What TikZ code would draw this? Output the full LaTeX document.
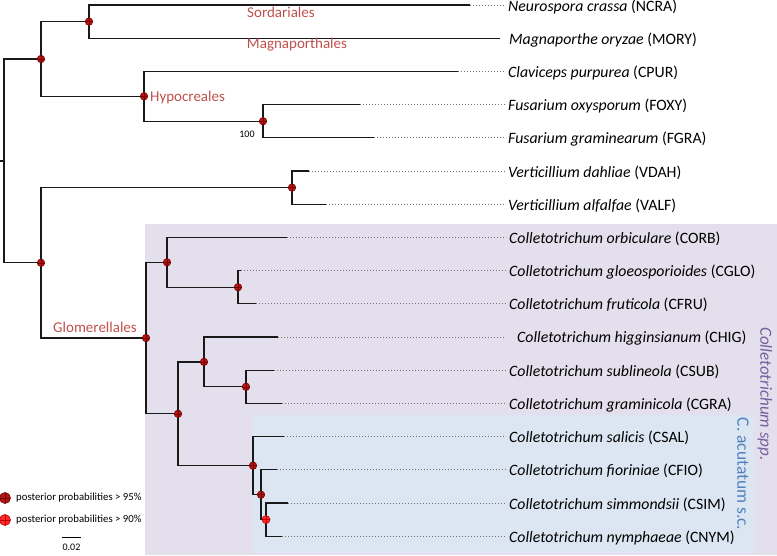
\documentclass[tikz,border=0pt]{standalone}
\usepackage{fontspec}
\setmainfont{Carlito}
\definecolor{cladered}{HTML}{C0504D}
\definecolor{sppurple}{HTML}{7560A0}
\definecolor{acblue}{HTML}{4F81BD}
\definecolor{purplebg}{HTML}{E4DFEC}
\definecolor{bluebg}{HTML}{DCE6F2}
\definecolor{ppdark}{HTML}{7A0000}
\definecolor{ppfill}{HTML}{B01818}
\definecolor{ppbright}{HTML}{FF2A2A}
\definecolor{ppbrightdark}{HTML}{C00000}
\begin{document}
\begin{tikzpicture}[x=1pt,y=-1pt,
  br/.style={line width=1.2pt, black!90},
  dotline/.style={black!55, line width=0.9pt, dash pattern=on 0.9pt off 2.1pt},
  sp/.style={anchor=west, inner sep=0pt, font=\fontsize{15.8}{18}\selectfont},
  clade/.style={text=cladered, inner sep=0pt, font=\fontsize{15}{18}\selectfont},
  small/.style={inner sep=0pt, font=\fontsize{10}{12}\selectfont},
  ppmark/.style={circle, inner sep=0pt, minimum size=#1, line width=0.6pt,
    path picture={\draw[line width=0.6pt, draw=ppdark]
      (path picture bounding box.north) -- (path picture bounding box.south)
      (path picture bounding box.west) -- (path picture bounding box.east);}},
  pp95/.style={ppmark=#1, draw=ppdark, fill=ppfill},
  pp90/.style={circle, inner sep=0pt, minimum size=#1, line width=0.6pt, draw=ppbrightdark, fill=ppbright,
    path picture={\draw[line width=0.6pt, draw=ppbrightdark]
      (path picture bounding box.north) -- (path picture bounding box.south)
      (path picture bounding box.west) -- (path picture bounding box.east);}}
]
\useasboundingbox (0,0) rectangle (777,555);
% backgrounds
\fill[purplebg] (145,224) rectangle (777,555);
\fill[bluebg] (252,415) rectangle (754,553);

% internal nodes
\coordinate (r0) at (0,160.9);
\coordinate (root) at (4,160.9);
\coordinate (n1) at (41,59);
\coordinate (n2) at (89,21.6);
\coordinate (n3) at (144,96.3);
\coordinate (n4) at (263,121.2);
\coordinate (n5) at (41,262.8);
\coordinate (n6) at (292,187.6);
\coordinate (n7) at (146,338);
\coordinate (n8) at (167,262.3);
\coordinate (n9) at (238,287.2);
\coordinate (n10) at (178,413.8);
\coordinate (n11) at (204,361.9);
\coordinate (n12) at (246,386.8);
\coordinate (n13) at (253,465.65);
\coordinate (n14) at (261,494.7);
\coordinate (n15) at (266,519.6);

% leaf branch ends
\coordinate (lNCRA) at (470,5);
\coordinate (lMORY) at (500,38.2);
\coordinate (lCPUR) at (458,71.4);
\coordinate (lFOXY) at (360,104.6);
\coordinate (lFGRA) at (374,137.8);
\coordinate (lVDAH) at (309,171);
\coordinate (lVALF) at (326,204.2);
\coordinate (lCORB) at (287,237.4);
\coordinate (lCGLO) at (241,270.6);
\coordinate (lCFRU) at (256,303.8);
\coordinate (lCHIG) at (278,337);
\coordinate (lCSUB) at (274,370.2);
\coordinate (lCGRA) at (282,403.4);
\coordinate (lCSAL) at (284,436.6);
\coordinate (lCFIO) at (277,469.8);
\coordinate (lCSIM) at (288,503);
\coordinate (lCNYM) at (282,536.2);

% dotted ends
\foreach \n/\y in {NCRA/5,CPUR/71.4,FOXY/104.6,FGRA/137.8,VDAH/171,VALF/204.2,CORB/237.4,CGLO/270.6,CFRU/303.8,CHIG/337,CSUB/370.2,CGRA/403.4,CSAL/436.6,CFIO/469.8,CSIM/503,CNYM/536.2}
  \coordinate (d\n) at (506,\y);

% tree branches
\draw[br] (r0) -- (root);
\draw[br] (root) |- (n1);
\draw[br] (root) |- (n5);
\draw[br] (n1) |- (n2);
\draw[br] (n1) |- (n3);
\draw[br] (n2) |- (lNCRA);
\draw[br] (n2) |- (lMORY);
\draw[br] (n3) |- (lCPUR);
\draw[br] (n3) |- (n4);
\draw[br] (n4) |- (lFOXY);
\draw[br] (n4) |- (lFGRA);
\draw[br] (n5) |- (n6);
\draw[br] (n5) |- (n7);
\draw[br] (n6) |- (lVDAH);
\draw[br] (n6) |- (lVALF);
\draw[br] (n7) |- (n8);
\draw[br] (n7) |- (n10);
\draw[br] (n8) |- (lCORB);
\draw[br] (n8) |- (n9);
\draw[br] (n9) |- (lCGLO);
\draw[br] (n9) |- (lCFRU);
\draw[br] (n10) |- (n11);
\draw[br] (n10) |- (n13);
\draw[br] (n11) |- (lCHIG);
\draw[br] (n11) |- (n12);
\draw[br] (n12) |- (lCSUB);
\draw[br] (n12) |- (lCGRA);
\draw[br] (n13) |- (lCSAL);
\draw[br] (n13) |- (n14);
\draw[br] (n14) |- (lCFIO);
\draw[br] (n14) |- (n15);
\draw[br] (n15) |- (lCSIM);
\draw[br] (n15) |- (lCNYM);

% dotted extensions
\foreach \n in {NCRA,CPUR,FOXY,FGRA,VDAH,VALF,CORB,CGLO,CFRU,CHIG,CSUB,CGRA,CSAL,CFIO,CSIM,CNYM}
  \draw[dotline] (l\n) -- (d\n);

% markers
\foreach \n in {n1,n2,n3,n4,n5,n6,n7,n8,n9,n10,n11,n12,n13,n14}
  \node[pp95=7.5pt] (m\n) at (\n) {};
\node[pp90=8pt] (mn15) at (n15) {};

% species labels
\node[sp] (tNCRA) at (508,6.5) {\textit{Neurospora crassa} (NCRA)};
\node[sp] (tMORY) at (509,39.7) {\textit{Magnaporthe oryzae} (MORY)};
\node[sp] (tCPUR) at (508,72.9) {\textit{Claviceps purpurea} (CPUR)};
\node[sp] (tFOXY) at (508,106.1) {\textit{Fusarium oxysporum} (FOXY)};
\node[sp] (tFGRA) at (508,139.3) {\textit{Fusarium graminearum} (FGRA)};
\node[sp] (tVDAH) at (508,172.5) {\textit{Verticillium dahliae} (VDAH)};
\node[sp] (tVALF) at (508,205.7) {\textit{Verticillium alfalfae} (VALF)};
\node[sp] (tCORB) at (509,238.9) {\textit{Colletotrichum orbiculare} (CORB)};
\node[sp] (tCGLO) at (509,272.1) {\textit{Colletotrichum gloeosporioides} (CGLO)};
\node[sp] (tCFRU) at (509,305.3) {\textit{Colletotrichum fruticola} (CFRU)};
\node[sp] (tCHIG) at (517,338.5) {\textit{Colletotrichum higginsianum} (CHIG)};
\node[sp] (tCSUB) at (509,371.7) {\textit{Colletotrichum sublineola} (CSUB)};
\node[sp] (tCGRA) at (509,404.9) {\textit{Colletotrichum graminicola} (CGRA)};
\node[sp] (tCSAL) at (509,438.1) {\textit{Colletotrichum salicis} (CSAL)};
\node[sp] (tCFIO) at (509,471.3) {\textit{Colletotrichum fioriniae} (CFIO)};
\node[sp] (tCSIM) at (509,504.5) {\textit{Colletotrichum simmondsii} (CSIM)};
\node[sp] (tCNYM) at (509,537.7) {\textit{Colletotrichum nymphaeae} (CNYM)};

% clade labels
\node[clade] (cSord) at (281,12) {Sordariales};
\node[clade] (cMagn) at (297,45) {Magnaporthales};
\node[clade, anchor=west] (cHypo) at (150,97) {Hypocreales};
\node[clade] (cGlom) at (95,327) {Glomerellales};
\node[small] (b100) at (247,134) {100};

% rotated group labels
\node[inner sep=0pt, rotate=-90, text=sppurple, font=\fontsize{17}{20}\selectfont\itshape] (gspp) at (765,394) {Colletotrichum spp.};
\node[inner sep=0pt, rotate=-90, text=acblue, font=\fontsize{17.5}{20}\selectfont] (gacu) at (743,474) {C. acutatum s.c.};

% legend
\node[pp95=11pt] (lg95) at (5,498) {};
\node[small, anchor=west, font=\fontsize{10.75}{12}\selectfont] (lt95) at (16,498) {posterior probabilities > 95\%};
\node[pp90=11pt] (lg90) at (5,520) {};
\node[small, anchor=west, font=\fontsize{10.75}{12}\selectfont] (lt90) at (16,520) {posterior probabilities > 90\%};
\coordinate (sb1) at (62,537);
\coordinate (sb2) at (81,537);
\draw[line width=1pt] (sb1) -- (sb2);
\node[small] (sbt) at (71.5,547) {0.02};
\end{tikzpicture}
\end{document}
